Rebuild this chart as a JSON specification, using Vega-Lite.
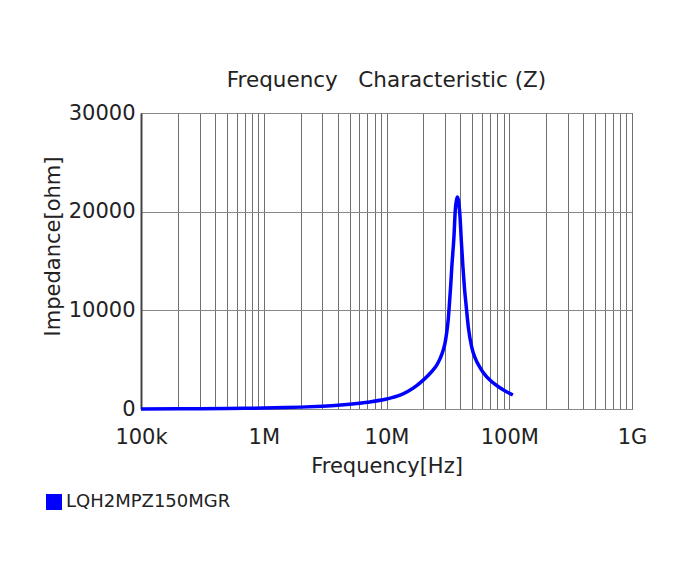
{
  "$schema": "https://vega.github.io/schema/vega-lite/v6.json",
  "autosize": "none",
  "width": 491,
  "height": 296,
  "padding": {"left": 141, "top": 113, "right": 60, "bottom": 156},
  "background": "white",
  "title": {
    "text": "Frequency\u00a0\u00a0\u00a0Characteristic (Z)",
    "font": "DejaVu Sans",
    "fontSize": 21.5,
    "fontWeight": "normal",
    "color": "#222222",
    "anchor": "middle",
    "offset": 11
  },
  "config": {
    "view": {"stroke": "#222222", "strokeWidth": 1},
    "font": "DejaVu Sans"
  },
  "data": {
    "values": [
      {"f": 100000, "z": 10, "series": "LQH2MPZ150MGR"},
      {"f": 200000, "z": 19, "series": "LQH2MPZ150MGR"},
      {"f": 300000, "z": 28, "series": "LQH2MPZ150MGR"},
      {"f": 500000, "z": 47, "series": "LQH2MPZ150MGR"},
      {"f": 700000, "z": 66, "series": "LQH2MPZ150MGR"},
      {"f": 1000000, "z": 95, "series": "LQH2MPZ150MGR"},
      {"f": 1500000, "z": 142, "series": "LQH2MPZ150MGR"},
      {"f": 2000000, "z": 190, "series": "LQH2MPZ150MGR"},
      {"f": 3000000, "z": 290, "series": "LQH2MPZ150MGR"},
      {"f": 4000000, "z": 385, "series": "LQH2MPZ150MGR"},
      {"f": 5000000, "z": 485, "series": "LQH2MPZ150MGR"},
      {"f": 7000000, "z": 690, "series": "LQH2MPZ150MGR"},
      {"f": 10000000, "z": 1010, "series": "LQH2MPZ150MGR"},
      {"f": 12900000, "z": 1400, "series": "LQH2MPZ150MGR"},
      {"f": 15000000, "z": 1800, "series": "LQH2MPZ150MGR"},
      {"f": 17500000, "z": 2350, "series": "LQH2MPZ150MGR"},
      {"f": 19800000, "z": 2900, "series": "LQH2MPZ150MGR"},
      {"f": 22000000, "z": 3450, "series": "LQH2MPZ150MGR"},
      {"f": 23900000, "z": 3950, "series": "LQH2MPZ150MGR"},
      {"f": 25800000, "z": 4500, "series": "LQH2MPZ150MGR"},
      {"f": 27300000, "z": 5100, "series": "LQH2MPZ150MGR"},
      {"f": 29000000, "z": 5980, "series": "LQH2MPZ150MGR"},
      {"f": 30000000, "z": 6700, "series": "LQH2MPZ150MGR"},
      {"f": 30900000, "z": 7700, "series": "LQH2MPZ150MGR"},
      {"f": 31800000, "z": 9000, "series": "LQH2MPZ150MGR"},
      {"f": 32500000, "z": 10540, "series": "LQH2MPZ150MGR"},
      {"f": 33300000, "z": 12400, "series": "LQH2MPZ150MGR"},
      {"f": 34000000, "z": 14290, "series": "LQH2MPZ150MGR"},
      {"f": 35500000, "z": 17630, "series": "LQH2MPZ150MGR"},
      {"f": 36300000, "z": 20070, "series": "LQH2MPZ150MGR"},
      {"f": 37200000, "z": 21200, "series": "LQH2MPZ150MGR"},
      {"f": 37900000, "z": 21490, "series": "LQH2MPZ150MGR"},
      {"f": 38700000, "z": 21000, "series": "LQH2MPZ150MGR"},
      {"f": 39700000, "z": 19500, "series": "LQH2MPZ150MGR"},
      {"f": 40800000, "z": 16800, "series": "LQH2MPZ150MGR"},
      {"f": 42000000, "z": 14290, "series": "LQH2MPZ150MGR"},
      {"f": 43200000, "z": 12200, "series": "LQH2MPZ150MGR"},
      {"f": 44500000, "z": 10540, "series": "LQH2MPZ150MGR"},
      {"f": 46400000, "z": 8300, "series": "LQH2MPZ150MGR"},
      {"f": 49400000, "z": 6300, "series": "LQH2MPZ150MGR"},
      {"f": 53000000, "z": 5100, "series": "LQH2MPZ150MGR"},
      {"f": 57800000, "z": 4200, "series": "LQH2MPZ150MGR"},
      {"f": 65000000, "z": 3300, "series": "LQH2MPZ150MGR"},
      {"f": 74100000, "z": 2650, "series": "LQH2MPZ150MGR"},
      {"f": 84100000, "z": 2150, "series": "LQH2MPZ150MGR"},
      {"f": 95000000, "z": 1750, "series": "LQH2MPZ150MGR"},
      {"f": 107000000, "z": 1420, "series": "LQH2MPZ150MGR"}
    ]
  },
  "mark": {"type": "line", "strokeWidth": 3.5, "interpolate": "monotone"},
  "encoding": {
    "x": {
      "field": "f",
      "type": "quantitative",
      "scale": {"type": "log", "domain": [100000, 1000000000], "nice": false},
      "axis": {
        "title": "Frequency[Hz]",
        "titleFont": "DejaVu Sans",
        "titleFontSize": 21,
        "titleFontWeight": "normal",
        "titleColor": "#222222",
        "titlePadding": 8,
        "values": [100000, 200000, 300000, 400000, 500000, 600000, 700000, 800000, 900000,
                   1000000, 2000000, 3000000, 4000000, 5000000, 6000000, 7000000, 8000000, 9000000,
                   10000000, 20000000, 30000000, 40000000, 50000000, 60000000, 70000000, 80000000, 90000000,
                   100000000, 200000000, 300000000, 400000000, 500000000, 600000000, 700000000, 800000000, 900000000,
                   1000000000],
        "labelExpr": "datum.value == 100000 ? '100k' : datum.value == 1000000 ? '1M' : datum.value == 10000000 ? '10M' : datum.value == 100000000 ? '100M' : datum.value == 1000000000 ? '1G' : ''",
        "labelFont": "DejaVu Sans",
        "labelFontSize": 21,
        "labelColor": "#222222",
        "labelOverlap": false,
        "labelFlush": false,
        "labelPadding": 17,
        "ticks": false,
        "domain": false,
        "grid": true,
        "gridColor": "#6f6f6f",
        "gridWidth": 1,
        "gridOpacity": 1
      }
    },
    "y": {
      "field": "z",
      "type": "quantitative",
      "scale": {"domain": [0, 30000], "nice": false},
      "axis": {
        "title": "Impedance[ohm]",
        "titleFont": "DejaVu Sans",
        "titleFontSize": 21,
        "titleFontWeight": "normal",
        "titleColor": "#222222",
        "titleX": -88,
        "titleY": 133,
        "titleBaseline": "middle",
        "titleAlign": "center",
        "values": [0, 10000, 20000, 30000],
        "format": "d",
        "labelFont": "DejaVu Sans",
        "labelFontSize": 21,
        "labelColor": "#222222",
        "labelPadding": 6,
        "labelBaseline": "middle",
        "ticks": false,
        "domain": true,
        "domainColor": "#444444",
        "domainWidth": 2,
        "grid": true,
        "gridColor": "#888888",
        "gridWidth": 1,
        "gridOpacity": 1
      }
    },
    "color": {
      "field": "series",
      "type": "nominal",
      "scale": {"range": ["#0000ff"]},
      "legend": {
        "title": null,
        "orient": "none",
        "legendX": -96,
        "legendY": 380,
        "symbolType": "square",
        "symbolSize": 256,
        "symbolFillColor": "#0000ff",
        "symbolStrokeWidth": 0,
        "symbolOpacity": 1,
        "labelFont": "DejaVu Sans",
        "labelFontSize": 18,
        "labelColor": "#222222",
        "labelOffset": 3,
        "labelLimit": 400,
        "padding": 0
      }
    }
  }
}
